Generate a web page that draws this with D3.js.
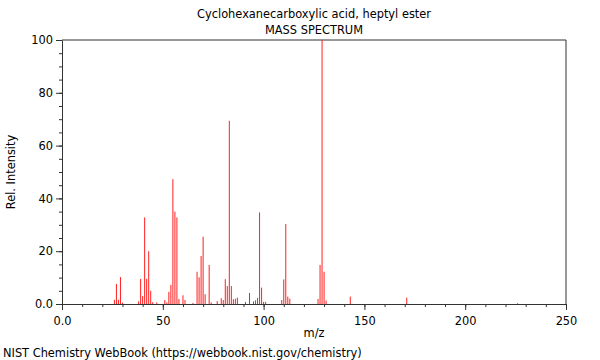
<!DOCTYPE html>
<html>
<head>
<meta charset="utf-8">
<script src="https://cdn.jsdelivr.net/npm/d3@7"></script>
<style>
  body { margin: 0; background: #fff; }
  text { font-family: "DejaVu Sans", sans-serif; fill: #000; }
</style>
</head>
<body>
<div id="chart"></div>
<script>
// Peaks (m/z, relative intensity)
const mzValues = [26, 27, 28, 29, 30, 38, 39, 40, 41, 42, 43, 44, 45, 47,
    51, 52, 53, 54, 55, 56, 57, 58, 60, 61, 65, 67, 68, 69, 70, 71, 73, 74,
    77, 79, 80, 81, 82, 83, 84, 85, 86, 87, 91, 93, 95, 96, 97, 98, 99, 100, 101,
    109, 110, 111, 112, 113, 127, 128, 129, 130, 131, 143, 171, 226];
const intensities = [1.6, 7.6, 1.6, 10.2, 0.5, 1.0, 9.5, 3.0, 32.8, 9.5, 20.0, 5.0, 0.7, 0.6,
    1.5, 0.6, 4.6, 7.2, 47.3, 35.0, 32.8, 1.9, 3.3, 1.5, 0.4, 12.2, 10.1, 18.2, 25.5, 3.7, 14.8, 0.6,
    1.1, 2.2, 1.5, 9.4, 6.8, 69.4, 6.8, 1.8, 2.0, 2.4, 0.8, 4.2, 1.0, 1.4, 2.3, 34.7, 6.2, 0.8, 0.8,
    1.5, 9.3, 30.3, 2.8, 2.0, 1.9, 14.8, 100, 12.2, 1.3, 2.8, 2.4, 0.3];

const xTicks = [0, 50, 100, 150, 200, 250];
const yTicks = [0, 20, 40, 60, 80, 100];
const titleLines = ["Cyclohexanecarboxylic acid, heptyl ester", "MASS SPECTRUM"];

const width = 600, height = 360;
const margin = { top: 40, right: 34, bottom: 56, left: 62 };
const fontSize = 11.4;

const svg = d3.select("#chart").append("svg")
    .attr("width", width)
    .attr("height", height);

const x = d3.scaleLinear().domain([0, 250]).range([margin.left, width - margin.right]);
const y = d3.scaleLinear().domain([0, 100]).range([height - margin.bottom, margin.top]);

const fmt = d => d === 0 ? "0.0" : String(d);

// minor ticks
svg.append("g")
    .attr("transform", `translate(0,${y(0)})`)
    .call(d3.axisBottom(x).tickValues(d3.range(0, 251, 10)).tickSize(3).tickFormat(""))
    .call(g => g.select(".domain").remove())
    .selectAll("line").attr("stroke", "#333");
svg.append("g")
    .attr("transform", `translate(${x(0)},0)`)
    .call(d3.axisLeft(y).tickValues(d3.range(0, 101, 5)).tickSize(3).tickFormat(""))
    .call(g => g.select(".domain").remove())
    .selectAll("line").attr("stroke", "#333");

// major axes
const xAxis = svg.append("g")
    .attr("transform", `translate(0,${y(0)})`)
    .call(d3.axisBottom(x).tickValues(xTicks).tickSize(6).tickSizeOuter(0).tickFormat(fmt));
xAxis.selectAll("text").attr("font-size", fontSize).attr("dy", "1.05em");

const yAxis = svg.append("g")
    .attr("transform", `translate(${x(0)},0)`)
    .call(d3.axisLeft(y).tickValues(yTicks).tickSize(6).tickSizeOuter(0).tickFormat(fmt));
yAxis.selectAll("text").attr("font-size", fontSize);

svg.selectAll(".domain, .tick line").attr("stroke", "#333");

// box top and right
svg.append("line")
    .attr("x1", x(0)).attr("x2", x(250)).attr("y1", y(100)).attr("y2", y(100))
    .attr("stroke", "#333");
svg.append("line")
    .attr("x1", x(250)).attr("x2", x(250)).attr("y1", y(100)).attr("y2", y(0))
    .attr("stroke", "#333");

// peaks
svg.append("g").selectAll("line")
    .data(mzValues)
    .join("line")
    .attr("x1", d => x(d))
    .attr("x2", d => x(d))
    .attr("y1", y(0))
    .attr("y2", (d, i) => y(intensities[i]))
    .attr("stroke", "#ff2020")
    .attr("stroke-width", 1);

// titles
svg.selectAll(".title")
    .data(titleLines)
    .join("text")
    .attr("class", "title")
    .attr("x", (x(0) + x(250)) / 2)
    .attr("y", (d, i) => 18 + i * 16)
    .attr("text-anchor", "middle")
    .attr("font-size", fontSize)
    .text(d => d);

svg.append("text")
    .attr("x", (x(0) + x(250)) / 2)
    .attr("y", 337)
    .attr("text-anchor", "middle")
    .attr("font-size", fontSize)
    .text("m/z");

svg.append("text")
    .attr("transform", `translate(15,${(y(0) + y(100)) / 2}) rotate(-90)`)
    .attr("text-anchor", "middle")
    .attr("font-size", fontSize)
    .text("Rel. Intensity");

svg.append("text")
    .attr("x", 3)
    .attr("y", 357)
    .attr("font-size", fontSize)
    .text("NIST Chemistry WebBook (https://webbook.nist.gov/chemistry)");
</script>
</body>
</html>
